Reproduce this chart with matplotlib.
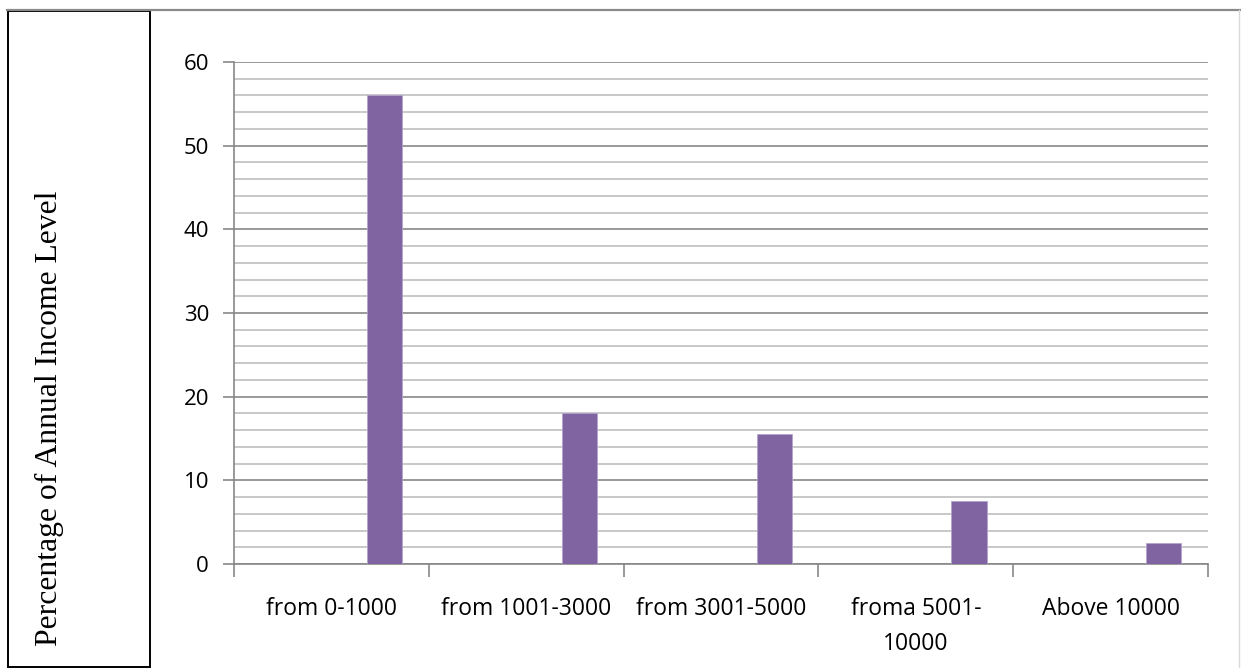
import matplotlib
matplotlib.use("Agg")
import matplotlib.pyplot as plt
from matplotlib.lines import Line2D
from matplotlib.patches import Rectangle
import numpy as np

categories = ["from 0-1000", "from 1001-3000", "from 3001-5000", "froma 5001-\n10000", "Above 10000"]
values = [56, 18, 15.5, 7.5, 2.5]
y_label = "Percentage of Annual Income Level"

W, H = 1241, 668
fig = plt.figure(figsize=(W / 100, H / 100), dpi=100)
fig.patch.set_facecolor("white")

# frame lines
fig.add_artist(Line2D([7 / W, 1], [1 - 10 / H] * 2, color="#8a8a8a", lw=1.6, transform=fig.transFigure))
fig.add_artist(Line2D([1239 / W] * 2, [1 - 10 / H, 0], color="#d9d9d9", lw=1.0, transform=fig.transFigure))
fig.add_artist(Rectangle((8 / W, 1 - 667 / H), 142 / W, 656 / H, fill=False,
                         edgecolor="black", lw=1.4, transform=fig.transFigure))
fig.text(49 / W, 1 - 418 / H, y_label, rotation=90, ha="center", va="center",
         family="Liberation Serif", fontsize=22.8)

ax = fig.add_axes([234 / W, 1 - 564 / H, (1208 - 234) / W, (564 - 62) / H])
x = np.arange(len(categories))
ax.bar(x + 0.273, values, width=0.18, color="#8064A2", edgecolor="#b4a3cc", linewidth=0.6, zorder=3)
ax.set_xlim(-0.5, len(categories) - 0.5)
ax.set_ylim(0, 60)

ax.set_yticks(np.arange(0, 61, 10))
ax.set_yticks(np.arange(0, 61, 2), minor=True)
ax.yaxis.grid(True, which="major", color="#878787", lw=1.2, zorder=0)
ax.yaxis.grid(True, which="minor", color="#bfbfbf", lw=1.2, zorder=0)
ax.tick_params(axis="y", which="major", length=8, width=1.2, color="#878787",
               labelsize=16, pad=10)
ax.tick_params(axis="y", which="minor", length=0)

ax.set_xticks(np.arange(-0.5, len(categories), 1.0))
ax.set_xticklabels([])
ax.set_xticks(x, minor=True)
ax.set_xticklabels(categories, minor=True)
ax.tick_params(axis="x", which="major", length=9, width=1.2, color="#878787")
ax.tick_params(axis="x", which="minor", length=0, labelsize=16.5, pad=24)

for lab in ax.get_xticklabels(minor=True):
    lab.set_family("Open Sans")
    lab.set_linespacing(1.6)
for lab in ax.get_yticklabels():
    lab.set_family("Open Sans")

for s in ["top", "right"]:
    ax.spines[s].set_visible(False)
for s in ["left", "bottom"]:
    ax.spines[s].set_color("#878787")
    ax.spines[s].set_linewidth(1.2)
ax.set_axisbelow(True)

fig.savefig("out.png", dpi=100)
